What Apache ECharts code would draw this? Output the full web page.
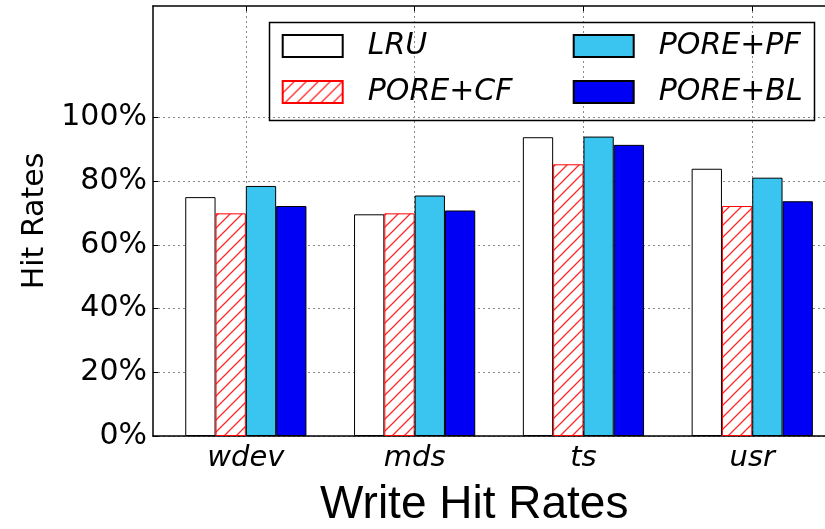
<!DOCTYPE html>
<html><head><meta charset="utf-8">
<script src="https://cdn.jsdelivr.net/npm/echarts@6/dist/echarts.min.js"></script>
<style>html,body{margin:0;padding:0;background:#fff}#c{width:825px;height:529px}</style>
</head><body><div id="c"></div>
<script>
// ---- data ----
const categories = ['wdev', 'mds', 'ts', 'usr'];
const seriesNames = ['LRU', 'PORE+CF', 'PORE+PF', 'PORE+BL'];
const lru    = [75.0, 69.6, 93.8, 83.9];
const poreCF = [69.9, 69.9, 85.3, 72.2];
const porePF = [78.5, 75.5, 94.0, 81.1];
const poreBL = [72.2, 70.8, 91.4, 73.7];
const yTicks = [0, 20, 40, 60, 80, 100];
const xTicks = [0, 1, 2, 3];

// hatch pattern
function hatch() {
  const s = 12, c = document.createElement('canvas');
  c.width = s; c.height = s;
  const g = c.getContext('2d');
  g.fillStyle = '#ffffff'; g.fillRect(0, 0, s, s);
  g.strokeStyle = '#ff2a2a'; g.lineWidth = 1.3;
  g.beginPath();
  g.moveTo(0, s); g.lineTo(s, 0);
  g.moveTo(-s/2, s/2); g.lineTo(s/2, -s/2);
  g.moveTo(s/2, s*1.5); g.lineTo(s*1.5, s/2);
  g.stroke();
  return c;
}

const font = 'DejaVu Sans';
const toPts = arr => arr.map((v, i) => [xTicks[i], v]);
const styles = [
  {color: '#ffffff', borderColor: '#000', borderWidth: 1},
  {color: {image: hatch(), repeat: 'repeat'}, borderColor: '#ff0000', borderWidth: 1},
  {color: '#3ac5f0', borderColor: '#000', borderWidth: 1},
  {color: '#0000f5', borderColor: '#000', borderWidth: 1}
];
const vals = [lru, poreCF, porePF, poreBL];

const chart = echarts.init(document.getElementById('c'), null, {renderer: 'canvas'});
const legendCommon = {
  orient: 'vertical', top: 31, itemWidth: 60, itemHeight: 22, itemGap: 16, padding: 0,
  icon: 'rect', selectedMode: false,
  textStyle: {fontFamily: font, fontStyle: 'italic', fontSize: 30, color: '#000', padding: [0, 0, 0, 20]}
};
const gridLine = {show: true, lineStyle: {color: '#888', type: [2, 3], width: 1}};
chart.setOption({
  animation: false,
  backgroundColor: '#fff',
  title: {
    text: 'Write Hit Rates', left: 320, top: 482, padding: 0,
    textStyle: {fontFamily: 'Liberation Sans', fontWeight: 'normal', fontSize: 46, color: '#000'}
  },
  grid: {left: 153, right: 0, top: 6, bottom: 93, show: false},
  legend: [
    Object.assign({}, legendCommon, {left: 281.7, data: [seriesNames[0], seriesNames[1]]}),
    Object.assign({}, legendCommon, {left: 572.7, data: [seriesNames[2], seriesNames[3]]})
  ],
  graphic: [{
    type: 'rect', shape: {x: 269.5, y: 22.5, width: 545, height: 98},
    style: {fill: 'none', stroke: '#000', lineWidth: 1.5}, z: 5
  }],
  xAxis: [{
    type: 'value', min: -0.55, max: 3.431, position: 'bottom',
    axisLine: {show: true, onZero: false, lineStyle: {color: '#000', width: 1.5}},
    axisTick: {show: true, inside: true, length: 5, customValues: xTicks, lineStyle: {color: '#000'}},
    axisLabel: {customValues: xTicks, margin: 8, fontFamily: font, fontStyle: 'italic', fontSize: 29, color: '#000',
      formatter: v => categories[Math.round(v)]},
    splitLine: gridLine
  }, {
    type: 'value', min: -0.55, max: 3.431, position: 'top',
    axisLine: {show: true, onZero: false, lineStyle: {color: '#000', width: 1.5}},
    axisTick: {show: true, inside: true, length: 5, customValues: xTicks, lineStyle: {color: '#000'}},
    axisLabel: {show: false},
    splitLine: {show: false}
  }],
  yAxis: {
    type: 'value', min: 0, max: 135,
    name: 'Hit Rates', nameLocation: 'middle', nameGap: 101, nameRotate: 90,
    nameTextStyle: {fontFamily: font, fontSize: 30, color: '#000'},
    axisLine: {show: true, onZero: false, lineStyle: {color: '#000', width: 1.5}},
    axisTick: {show: true, inside: true, length: 5, customValues: yTicks, lineStyle: {color: '#000'}},
    axisLabel: {customValues: yTicks, margin: 6, fontFamily: font, fontSize: 30, color: '#000', formatter: v => v + '%'},
    splitLine: gridLine
  },
  series: seriesNames.map((n, k) => ({
    name: n, type: 'bar', xAxisIndex: 0, data: toPts(vals[k]), barWidth: 30.3, barGap: '0%',
    itemStyle: styles[k], z: 3
  }))
});
</script></body></html>
